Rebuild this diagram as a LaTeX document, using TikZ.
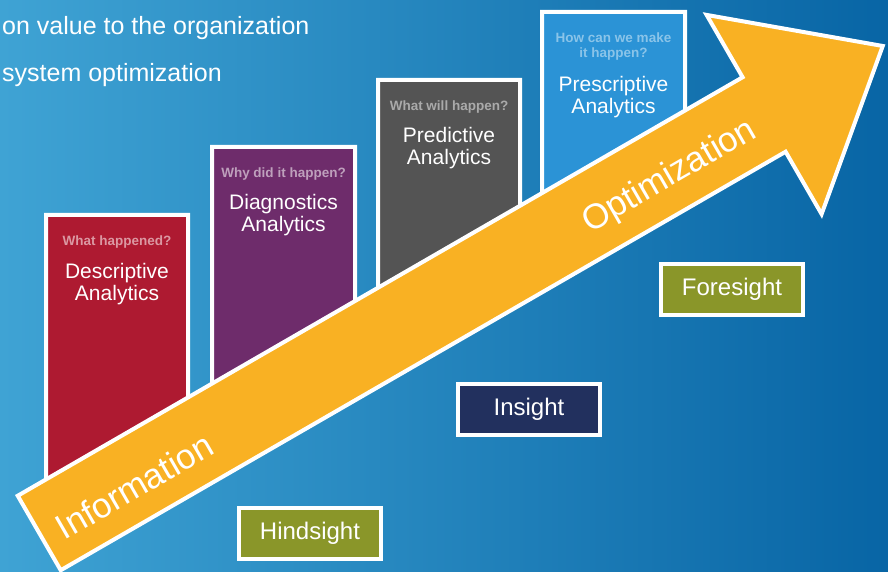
\documentclass[tikz,border=0pt]{standalone}
\usepackage{fontspec}
\setmainfont{Liberation Sans}
\definecolor{bgL}{HTML}{3FA3D4}
\definecolor{bgM}{HTML}{1385BF}
\definecolor{bgR}{HTML}{0865A5}
\definecolor{descRed}{HTML}{AE1A31}
\definecolor{diagPurple}{HTML}{6E2C6B}
\definecolor{predGray}{HTML}{545454}
\definecolor{prescBlue}{HTML}{2B93D6}
\definecolor{arrowOrange}{HTML}{F9B123}
\definecolor{olive}{HTML}{8A9629}
\definecolor{navy}{HTML}{22305E}
\tikzset{
  tallbox/.style={draw=white, line width=4pt, line join=miter},
  qtext/.style={anchor=base, inner sep=0pt, font=\bfseries\fontsize{13.5}{15}\selectfont},
  ttext/.style={anchor=base, inner sep=0pt, text=white, font=\fontsize{21}{23}\selectfont},
  lblbox/.style={draw=white, line width=4pt, minimum width=142pt, minimum height=51pt,
    inner sep=0pt, text=white, font=\fontsize{24}{26}\selectfont},
  arrtext/.style={text=white, inner sep=0pt, rotate=30, font=\fontsize{35}{38}\selectfont},
  toptext/.style={anchor=base west, inner sep=0pt, text=white, font=\fontsize{25}{27}\selectfont}
}
\begin{document}
\begin{tikzpicture}[x=1pt,y=1pt]
\useasboundingbox (0,0) rectangle (888,571);
\shade[left color=bgL, middle color=bgM, right color=bgR] (0,0) rectangle (888,571);

% top-left text
\node[toptext] (t1) at (2,536) {on value to the organization};
\node[toptext] (t2) at (2,489) {system optimization};

% tall boxes
\draw[tallbox, fill=descRed] (46,59) -- (46,356) -- (188,356) -- (188,141) -- cycle;
\draw[tallbox, fill=diagPurple] (212,155) -- (212,424) -- (355,424) -- (355,237) -- cycle;
\draw[tallbox, fill=predGray] (378,251) -- (378,491) -- (520,491) -- (520,333) -- cycle;
\draw[tallbox, fill=prescBlue] (542,345) -- (542,559) -- (685,559) -- (685,428) -- cycle;

% box texts
\node[qtext, text=white!55!descRed] (q1) at (117,325) {What happened?};
\node[ttext] (d1) at (117,293) {Descriptive};
\node[ttext] (d2) at (117,271) {Analytics};

\node[qtext, text=white!55!diagPurple] (q2) at (283.5,393) {Why did it happen?};
\node[ttext] (g1) at (283.5,361) {Diagnostics};
\node[ttext] (g2) at (283.5,339) {Analytics};

\node[qtext, text=white!50!predGray] (q3) at (449,460) {What will happen?};
\node[ttext] (p1) at (449,428) {Predictive};
\node[ttext] (p2) at (449,406) {Analytics};

\node[qtext, text=white!45!prescBlue] (q4a) at (613.5,528) {How can we make};
\node[qtext, text=white!45!prescBlue] (q4b) at (613.5,513) {it happen?};
\node[ttext] (s1) at (613.5,479) {Prescriptive};
\node[ttext] (s2) at (613.5,457) {Analytics};

% big arrow
\begin{scope}[shift={(37.5,37)}, rotate=30]
  \draw[fill=arrowOrange, draw=white, line width=4pt, line join=miter]
    (2,-43) -- (839,-43) -- (839,-115) -- (976,0) -- (839,115) -- (839,43) -- (2,43) -- cycle;
  \node[arrtext] (info) at (108,-7) {Information};
  \node[arrtext] (opti) at (726,-7) {Optimization};
\end{scope}

% label boxes
\node[lblbox, fill=olive] (hind) at (310,38) {Hindsight};
\node[lblbox, fill=navy] (ins) at (529,161.5) {Insight};
\node[lblbox, fill=olive] (fore) at (732,281.5) {Foresight};
\end{tikzpicture}
\end{document}
